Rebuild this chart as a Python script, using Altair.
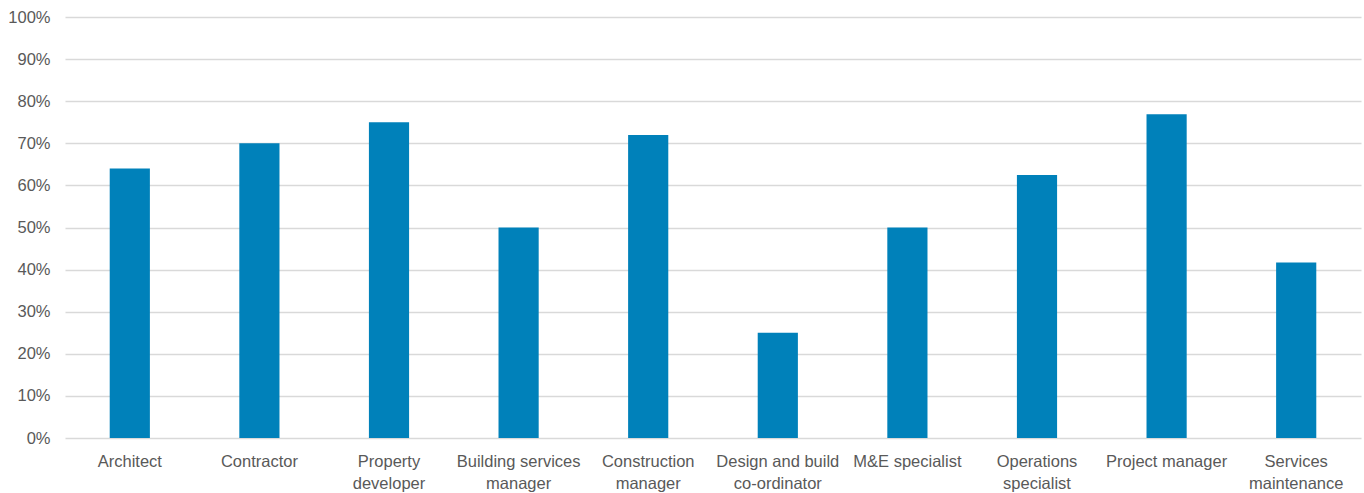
import altair as alt
import pandas as pd

categories = [
    "Architect", "Contractor", "Property\ndeveloper", "Building services\nmanager",
    "Construction\nmanager", "Design and build\nco-ordinator", "M&E specialist",
    "Operations\nspecialist", "Project manager", "Services\nmaintenance",
]
values = [0.64, 0.70, 0.75, 0.50, 0.72, 0.25, 0.50, 0.625, 0.769, 0.417]

df = pd.DataFrame({"category": categories, "value": values})

font = "Liberation Sans"
text_color = "#595959"

chart = alt.Chart(df).mark_bar(color="#0081BA").encode(
    x=alt.X("category:N", sort=categories, title=None,
            scale=alt.Scale(paddingInner=0.69, paddingOuter=0.345),
            axis=alt.Axis(labelAngle=0, labelExpr="split(datum.label, '\\n')",
                          labelFont=font, labelFontSize=16.5, labelColor=text_color,
                          labelPadding=15, labelLineHeight=22, domain=False, ticks=False,
                          labelLimit=300)),
    y=alt.Y("value:Q", title=None,
            scale=alt.Scale(domain=[0, 1], nice=False),
            axis=alt.Axis(format=".0%", values=[i / 10 for i in range(11)],
                          labelFont=font, labelFontSize=16.5, labelColor=text_color,
                          labelPadding=15, domain=False, ticks=False,
                          gridColor="#d9d9d9", gridWidth=1.5)),
).properties(
    width=1296, height=421,
    autosize=alt.AutoSizeParams(type="none"),
    padding={"left": 65, "top": 17, "right": 3, "bottom": 55},
).configure_view(stroke=None)

chart.save("out.html", embed_options={"renderer": "svg", "actions": False})
